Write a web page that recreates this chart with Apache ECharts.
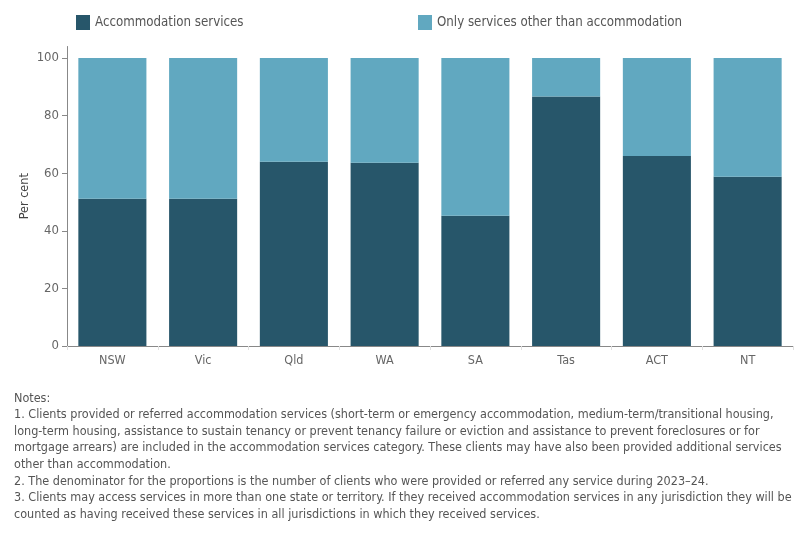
<!DOCTYPE html>
<html>
<head>
<meta charset="utf-8">
<script src="https://cdn.jsdelivr.net/npm/echarts@6/dist/echarts.min.js"></script>
<style>
  html, body { margin: 0; padding: 0; background: #fff; }
  #chart { width: 800px; height: 540px; }
</style>
</head>
<body>
<div id="chart"></div>
<script>
'use strict';

// 州/领地
var states = ['NSW', 'Vic', 'Qld', 'WA', 'SA', 'Tas', 'ACT', 'NT'];
// 住宿服务 (%)
var accommodation = [51.1, 51.1, 64.0, 63.6, 45.2, 86.6, 66.0, 58.8];
// 仅非住宿服务 (%)
var otherOnly = [48.9, 48.9, 36.0, 36.4, 54.8, 13.4, 34.0, 41.2];
var yTicks = [0, 20, 40, 60, 80, 100];

var seriesNames = ['Accommodation services', 'Only services other than accommodation'];

var notes = [
    'Notes:',
    '1. Clients provided or referred accommodation services (short-term or emergency accommodation, medium-term/transitional housing,',
    'long-term housing, assistance to sustain tenancy or prevent tenancy failure or eviction and assistance to prevent foreclosures or for',
    'mortgage arrears) are included in the accommodation services category. These clients may have also been provided additional services',
    'other than accommodation.',
    '2. The denominator for the proportions is the number of clients who were provided or referred any service during 2023\u201324.',
    '3. Clients may access services in more than one state or territory. If they received accommodation services in any jurisdiction they will be',
    'counted as having received these services in all jurisdictions in which they received services.'
];

var FONT = '"DejaVu Sans Condensed", "Noto Sans", sans-serif';
var DARK = '#27566a';
var LIGHT = '#61a8c0';

var chart = echarts.init(document.getElementById('chart'));

var legendBase = {
    top: 10,
    icon: 'rect',
    itemWidth: 14, itemHeight: 15, itemGap: 6,
    textStyle: { color: '#555', fontSize: 13.2, fontFamily: FONT }
};

var option = {
    animation: false,
    textStyle: { fontFamily: FONT },
    // 两个图例分开放
    legend: [
        Object.assign({ data: [seriesNames[0]], left: 71 }, legendBase),
        Object.assign({ data: [seriesNames[1]], left: 413 }, legendBase)
    ],
    grid: { left: 67, right: 7, top: 46.5, height: 299.5, containLabel: false },
    xAxis: {
        type: 'category',
        data: states,
        axisLine: { lineStyle: { color: '#888', width: 1 } },
        axisTick: { show: true, length: 4, lineStyle: { color: '#e0e0e0' } },
        axisLabel: { color: '#666', fontSize: 12.5, margin: 8, fontFamily: FONT }
    },
    yAxis: {
        type: 'value',
        min: 0,
        max: 104,
        interval: 20,
        name: 'Per cent',
        nameLocation: 'middle',
        nameRotate: 90,
        nameGap: 36,
        nameMoveOverlap: false,
        nameTextStyle: { color: '#444', fontSize: 12.5, fontFamily: FONT },
        axisLine: { show: true, lineStyle: { color: '#888' } },
        axisTick: { show: true, length: 5, lineStyle: { color: '#888' }, customValues: yTicks },
        axisLabel: { color: '#666', fontSize: 13, margin: 8, customValues: yTicks, fontFamily: FONT },
        splitLine: { show: false }
    },
    series: [
        {
            name: seriesNames[0],
            type: 'bar',
            stack: 'total',
            barCategoryGap: '25%',
            itemStyle: { color: DARK },
            data: accommodation
        },
        {
            name: seriesNames[1],
            type: 'bar',
            stack: 'total',
            barCategoryGap: '25%',
            itemStyle: { color: LIGHT },
            data: otherOnly
        }
    ],
    graphic: [
        {
            type: 'text',
            left: 14,
            top: 390,
            style: {
                text: notes.join('\n'),
                fill: '#555',
                font: '12.5px ' + FONT,
                lineHeight: 16.6
            }
        }
    ]
};

chart.setOption(option);
</script>
</body>
</html>
